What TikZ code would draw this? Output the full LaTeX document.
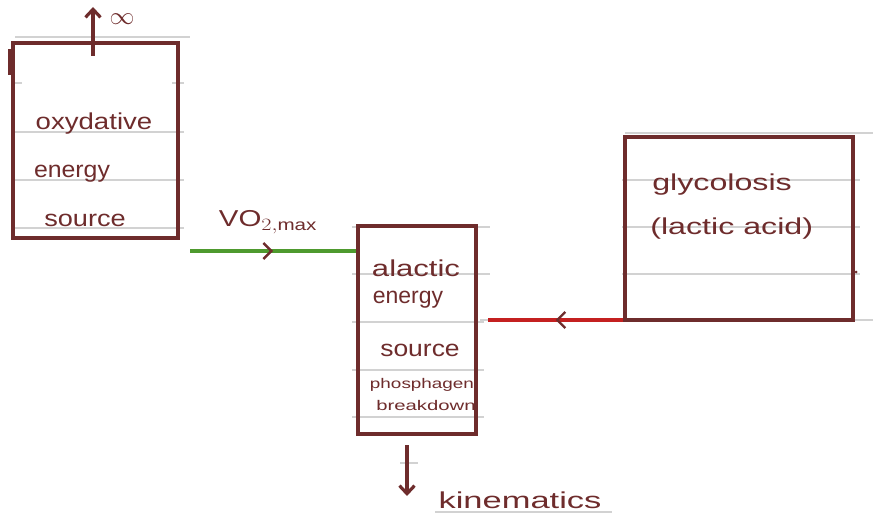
\documentclass[tikz,border=0pt]{standalone}
\usepackage{fontspec}
\setmainfont{Liberation Sans}
\usetikzlibrary{arrows.meta,decorations.markings}
\definecolor{ink}{HTML}{6E2C2C}
\definecolor{rule}{HTML}{D2D2D2}
\definecolor{grn}{HTML}{4E9A2E}
\definecolor{rd}{HTML}{C42020}
\tikzset{
  box/.style={draw=ink, line width=3.8pt},
  ruled/.style={draw=rule, line width=1.8pt},
  hand/.style={text=ink, inner sep=0pt, font=\fontsize{23}{25}\selectfont},
  small/.style={text=ink, inner sep=0pt, font=\fontsize{14}{15}\selectfont},
  inkarrow/.style={draw=ink, line width=3.2pt, -{Straight Barb[length=8pt,width=15pt]}},
  midarrow/.style={postaction={decorate, decoration={markings,
     mark=at position 0.5 with {\arrow[ink,line width=2.4pt]{Straight Barb[length=8pt,width=16pt]}}}}}
}
\begin{document}
\begin{tikzpicture}[x=1pt,y=-1pt]
\useasboundingbox (0,0) rectangle (873,519);
% ruled paper lines
\draw[ruled] (15,37) -- (190,37);
\draw[ruled] (15,83) -- (22,83) (172,83) -- (184,83);
\foreach \yy in {132,180,228} \draw[ruled] (15,\yy) -- (184,\yy);
\foreach \yy in {227,274,322,370,417} \draw[ruled] (352,\yy) -- (484,\yy);
\draw[ruled] (400,463) -- (418,463);
\draw[ruled] (435,512) -- (612,512);
\draw[ruled] (625,133) -- (873,133);
\draw[ruled] (622,180) -- (860,180);
\draw[ruled] (480,227) -- (490,227) (622,227) -- (860,227);
\draw[ruled] (480,274) -- (490,274) (622,274) -- (860,274);
\draw[ruled] (480,320) -- (873,320);
% boxes
\node[box, minimum width=165pt, minimum height=195pt, inner sep=0pt] (ox) at (95.5,140.5) {};
\draw[ink, line width=3.2pt] (10,49) -- (10,75);
\node[box, minimum width=118pt, minimum height=208pt, inner sep=0pt] (al) at (417,330) {};
\node[box, minimum width=228pt, minimum height=183pt, inner sep=0pt] (gl) at (739,228.5) {};
\fill[ink] (856,272) circle (1.5pt);
% texts
\node[hand, xscale=1.2] (t1) at (94,124) {oxydative};
\node[hand, xscale=1.08] (t2) at (72,174) {energy};
\node[hand, xscale=1.18] (t3) at (85,220) {source};
\node[hand, xscale=1.35] (t4) at (416,268) {alactic};
\node[hand, xscale=1.0] (t5) at (408,300) {energy};
\node[hand, xscale=1.15] (t6) at (420,350) {source};
\node[small, xscale=1.35] (t7) at (422,385) {phosphagen};
\node[small, xscale=1.45] (t8) at (426,405) {breakdown};
\node[hand, xscale=1.4, anchor=west] (t9) at (652,185) {glycolosis};
\node[hand, xscale=1.4, anchor=west] (t10) at (650,229) {(lactic acid)};
% top arrow
\coordinate (topend) at (93,7);
\draw[inkarrow] (93,56) -- (topend);
\node[hand, font=\fontsize{30}{32}\selectfont] (inf) at (122,19) {$\infty$};
% down arrow
\coordinate (dstart) at (407,445);
\coordinate (dend) at (407,496);
\draw[inkarrow] (dstart) -- (dend);
\node[hand, xscale=1.5] (kin) at (520,500) {kinematics};
% green arrow
\coordinate (gstart) at (190,251);
\draw[grn, line width=4.5pt, midarrow] (gstart) -- (al.west |- gstart);
\node[hand, xscale=1.28] (vo) at (268,222) {VO$_{2,\mathrm{max}}$};
% red arrow
\coordinate (rend) at (488,320);
\draw[rd, line width=4.5pt, midarrow] (rend -| gl.west) -- (rend);
\end{tikzpicture}
\end{document}
